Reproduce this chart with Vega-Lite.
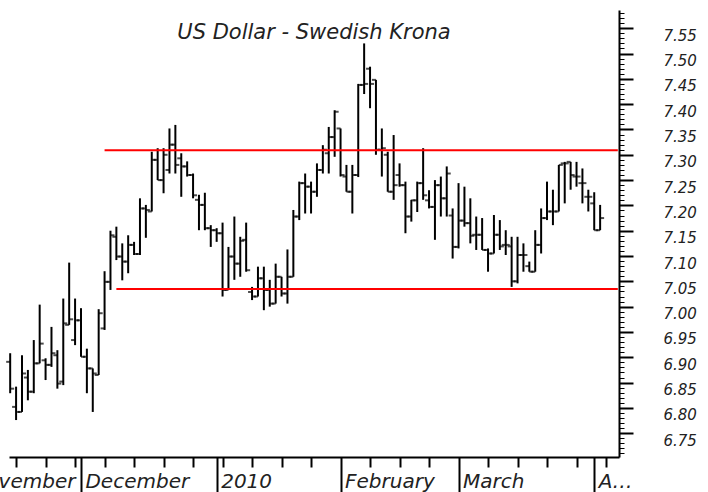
{
  "$schema": "https://vega.github.io/schema/vega-lite/v6.json",
  "width": 610,
  "height": 447,
  "autosize": {"type": "none"},
  "padding": {"left": 9, "top": 10, "right": 89, "bottom": 35},
  "background": "white",
  "title": {"text": "US Dollar - Swedish Krona", "font": "DejaVu Sans", "fontSize": 21, "fontStyle": "italic", "fontWeight": "normal", "color": "#222222", "anchor": "middle", "baseline": "alphabetic", "offset": -50},
  "config": {"view": {"stroke": null}, "axis": {"grid": false, "title": null, "labelFont": "DejaVu Sans", "labelFontStyle": "italic", "labelColor": "#222222", "labelOverlap": false, "labelBound": false, "labelAngle": 0, "tickColor": "#000000", "domainColor": "#000000"}},
  "datasets": {
    "bars": [
      {"d":"2009-11-13","o":6.891,"h":6.908,"l":6.829,"c":6.838},
      {"d":"2009-11-16","o":6.802,"h":6.842,"l":6.776,"c":6.792},
      {"d":"2009-11-17","o":6.792,"h":6.904,"l":6.792,"c":6.868},
      {"d":"2009-11-18","o":6.86,"h":6.875,"l":6.815,"c":6.832},
      {"d":"2009-11-19","o":6.832,"h":6.934,"l":6.829,"c":6.888},
      {"d":"2009-11-20","o":6.888,"h":7.004,"l":6.888,"c":6.927},
      {"d":"2009-11-23","o":6.894,"h":6.898,"l":6.855,"c":6.885},
      {"d":"2009-11-24","o":6.885,"h":6.96,"l":6.881,"c":6.908},
      {"d":"2009-11-25","o":6.904,"h":6.914,"l":6.838,"c":6.848},
      {"d":"2009-11-26","o":6.852,"h":7.016,"l":6.845,"c":6.967},
      {"d":"2009-11-27","o":6.964,"h":7.087,"l":6.964,"c":6.975},
      {"d":"2009-11-30","o":6.934,"h":7.016,"l":6.924,"c":6.973},
      {"d":"2009-12-01","o":6.973,"h":6.997,"l":6.901,"c":6.901},
      {"d":"2009-12-02","o":6.901,"h":6.917,"l":6.829,"c":6.878},
      {"d":"2009-12-03","o":6.878,"h":6.878,"l":6.792,"c":6.868},
      {"d":"2009-12-04","o":6.865,"h":6.995,"l":6.865,"c":6.987},
      {"d":"2009-12-07","o":6.957,"h":7.07,"l":6.954,"c":7.049},
      {"d":"2009-12-08","o":7.049,"h":7.15,"l":7.033,"c":7.141},
      {"d":"2009-12-09","o":7.138,"h":7.158,"l":7.092,"c":7.099},
      {"d":"2009-12-10","o":7.099,"h":7.125,"l":7.052,"c":7.089},
      {"d":"2009-12-11","o":7.089,"h":7.141,"l":7.066,"c":7.122},
      {"d":"2009-12-14","o":7.122,"h":7.128,"l":7.102,"c":7.104},
      {"d":"2009-12-15","o":7.104,"h":7.214,"l":7.102,"c":7.194},
      {"d":"2009-12-16","o":7.194,"h":7.201,"l":7.136,"c":7.191},
      {"d":"2009-12-17","o":7.188,"h":7.306,"l":7.188,"c":7.29},
      {"d":"2009-12-18","o":7.29,"h":7.313,"l":7.25,"c":7.25},
      {"d":"2009-12-21","o":7.25,"h":7.313,"l":7.224,"c":7.3},
      {"d":"2009-12-22","o":7.27,"h":7.352,"l":7.263,"c":7.32},
      {"d":"2009-12-23","o":7.32,"h":7.359,"l":7.263,"c":7.28},
      {"d":"2009-12-24","o":7.293,"h":7.303,"l":7.217,"c":7.277},
      {"d":"2009-12-25","o":7.277,"h":7.287,"l":7.257,"c":7.26},
      {"d":"2009-12-28","o":7.26,"h":7.263,"l":7.214,"c":7.22},
      {"d":"2009-12-29","o":7.211,"h":7.221,"l":7.151,"c":7.201},
      {"d":"2009-12-30","o":7.201,"h":7.225,"l":7.151,"c":7.155},
      {"d":"2009-12-31","o":7.155,"h":7.161,"l":7.118,"c":7.151},
      {"d":"2010-01-01","o":7.151,"h":7.155,"l":7.128,"c":7.145},
      {"d":"2010-01-04","o":7.145,"h":7.166,"l":7.02,"c":7.033},
      {"d":"2010-01-05","o":7.033,"h":7.118,"l":7.033,"c":7.099},
      {"d":"2010-01-06","o":7.099,"h":7.178,"l":7.053,"c":7.085},
      {"d":"2010-01-07","o":7.085,"h":7.138,"l":7.059,"c":7.13},
      {"d":"2010-01-08","o":7.132,"h":7.166,"l":7.069,"c":7.072},
      {"d":"2010-01-11","o":7.029,"h":7.039,"l":7.013,"c":7.02},
      {"d":"2010-01-12","o":7.02,"h":7.079,"l":7.02,"c":7.056},
      {"d":"2010-01-13","o":7.056,"h":7.079,"l":6.993,"c":7.033},
      {"d":"2010-01-14","o":7.033,"h":7.053,"l":7.0,"c":7.006},
      {"d":"2010-01-15","o":7.006,"h":7.085,"l":7.006,"c":7.059},
      {"d":"2010-01-18","o":7.059,"h":7.059,"l":7.02,"c":7.026},
      {"d":"2010-01-19","o":7.026,"h":7.113,"l":7.006,"c":7.059},
      {"d":"2010-01-20","o":7.059,"h":7.191,"l":7.059,"c":7.178},
      {"d":"2010-01-21","o":7.178,"h":7.247,"l":7.171,"c":7.244},
      {"d":"2010-01-22","o":7.244,"h":7.263,"l":7.184,"c":7.237},
      {"d":"2010-01-25","o":7.237,"h":7.247,"l":7.184,"c":7.227},
      {"d":"2010-01-26","o":7.227,"h":7.283,"l":7.217,"c":7.27},
      {"d":"2010-01-27","o":7.27,"h":7.319,"l":7.263,"c":7.31},
      {"d":"2010-01-28","o":7.303,"h":7.355,"l":7.263,"c":7.335},
      {"d":"2010-01-29","o":7.335,"h":7.388,"l":7.296,"c":7.385},
      {"d":"2010-02-01","o":7.352,"h":7.352,"l":7.257,"c":7.26},
      {"d":"2010-02-02","o":7.257,"h":7.28,"l":7.227,"c":7.227},
      {"d":"2010-02-03","o":7.227,"h":7.28,"l":7.184,"c":7.26},
      {"d":"2010-02-04","o":7.26,"h":7.44,"l":7.256,"c":7.438},
      {"d":"2010-02-05","o":7.438,"h":7.52,"l":7.42,"c":7.44},
      {"d":"2010-02-08","o":7.47,"h":7.474,"l":7.392,"c":7.44},
      {"d":"2010-02-09","o":7.448,"h":7.448,"l":7.3,"c":7.31},
      {"d":"2010-02-10","o":7.31,"h":7.352,"l":7.257,"c":7.313},
      {"d":"2010-02-11","o":7.3,"h":7.306,"l":7.227,"c":7.227},
      {"d":"2010-02-12","o":7.227,"h":7.339,"l":7.211,"c":7.24},
      {"d":"2010-02-15","o":7.26,"h":7.283,"l":7.237,"c":7.24},
      {"d":"2010-02-16","o":7.24,"h":7.247,"l":7.145,"c":7.178},
      {"d":"2010-02-17","o":7.178,"h":7.211,"l":7.168,"c":7.21},
      {"d":"2010-02-18","o":7.21,"h":7.247,"l":7.187,"c":7.244},
      {"d":"2010-02-19","o":7.244,"h":7.313,"l":7.211,"c":7.22},
      {"d":"2010-02-22","o":7.21,"h":7.23,"l":7.194,"c":7.197},
      {"d":"2010-02-23","o":7.197,"h":7.25,"l":7.132,"c":7.24},
      {"d":"2010-02-24","o":7.24,"h":7.257,"l":7.178,"c":7.214},
      {"d":"2010-02-25","o":7.214,"h":7.277,"l":7.178,"c":7.263},
      {"d":"2010-02-26","o":7.18,"h":7.194,"l":7.095,"c":7.118},
      {"d":"2010-03-01","o":7.118,"h":7.244,"l":7.115,"c":7.17},
      {"d":"2010-03-02","o":7.17,"h":7.237,"l":7.158,"c":7.165},
      {"d":"2010-03-03","o":7.165,"h":7.214,"l":7.125,"c":7.14},
      {"d":"2010-03-04","o":7.142,"h":7.178,"l":7.112,"c":7.142},
      {"d":"2010-03-05","o":7.142,"h":7.175,"l":7.112,"c":7.112},
      {"d":"2010-03-08","o":7.112,"h":7.115,"l":7.069,"c":7.105},
      {"d":"2010-03-09","o":7.105,"h":7.181,"l":7.105,"c":7.142},
      {"d":"2010-03-10","o":7.142,"h":7.171,"l":7.112,"c":7.119},
      {"d":"2010-03-11","o":7.122,"h":7.151,"l":7.102,"c":7.122},
      {"d":"2010-03-12","o":7.119,"h":7.138,"l":7.039,"c":7.05},
      {"d":"2010-03-15","o":7.05,"h":7.138,"l":7.046,"c":7.102},
      {"d":"2010-03-16","o":7.102,"h":7.125,"l":7.069,"c":7.102},
      {"d":"2010-03-17","o":7.08,"h":7.089,"l":7.069,"c":7.069},
      {"d":"2010-03-18","o":7.069,"h":7.151,"l":7.069,"c":7.122},
      {"d":"2010-03-19","o":7.122,"h":7.194,"l":7.105,"c":7.175},
      {"d":"2010-03-22","o":7.175,"h":7.247,"l":7.171,"c":7.188},
      {"d":"2010-03-23","o":7.188,"h":7.231,"l":7.161,"c":7.188},
      {"d":"2010-03-24","o":7.188,"h":7.28,"l":7.188,"c":7.28},
      {"d":"2010-03-25","o":7.283,"h":7.286,"l":7.204,"c":7.283},
      {"d":"2010-03-26","o":7.286,"h":7.286,"l":7.231,"c":7.26},
      {"d":"2010-03-29","o":7.257,"h":7.286,"l":7.237,"c":7.257},
      {"d":"2010-03-30","o":7.244,"h":7.273,"l":7.204,"c":7.244},
      {"d":"2010-03-31","o":7.217,"h":7.231,"l":7.188,"c":7.217},
      {"d":"2010-04-01","o":7.204,"h":7.226,"l":7.151,"c":7.151},
      {"d":"2010-04-02","o":7.151,"h":7.201,"l":7.151,"c":7.175}
    ],
    "levels": [
      {"d":"2009-12-07","e":"2010-04-07","v":7.309},
      {"d":"2009-12-09","e":"2010-04-07","v":7.035}
    ]
  },
  "resolve": {"scale": {"x": "shared", "y": "shared"}, "axis": {"x": "independent", "y": "independent"}},
  "layer": [
    {
      "data": {"name": "bars"},
      "mark": {"type": "rule", "color": "#000000", "strokeWidth": 2},
      "encoding": {
        "x": {"field": "d", "type": "ordinal", "sort": null,
          "scale": {"type": "point", "padding": 0.2, "domain": ["2009-11-13","2009-11-16","2009-11-17","2009-11-18","2009-11-19","2009-11-20","2009-11-23","2009-11-24","2009-11-25","2009-11-26","2009-11-27","2009-11-30","2009-12-01","2009-12-02","2009-12-03","2009-12-04","2009-12-07","2009-12-08","2009-12-09","2009-12-10","2009-12-11","2009-12-14","2009-12-15","2009-12-16","2009-12-17","2009-12-18","2009-12-21","2009-12-22","2009-12-23","2009-12-24","2009-12-25","2009-12-28","2009-12-29","2009-12-30","2009-12-31","2010-01-01","2010-01-04","2010-01-05","2010-01-06","2010-01-07","2010-01-08","2010-01-11","2010-01-12","2010-01-13","2010-01-14","2010-01-15","2010-01-18","2010-01-19","2010-01-20","2010-01-21","2010-01-22","2010-01-25","2010-01-26","2010-01-27","2010-01-28","2010-01-29","2010-02-01","2010-02-02","2010-02-03","2010-02-04","2010-02-05","2010-02-08","2010-02-09","2010-02-10","2010-02-11","2010-02-12","2010-02-15","2010-02-16","2010-02-17","2010-02-18","2010-02-19","2010-02-22","2010-02-23","2010-02-24","2010-02-25","2010-02-26","2010-03-01","2010-03-02","2010-03-03","2010-03-04","2010-03-05","2010-03-08","2010-03-09","2010-03-10","2010-03-11","2010-03-12","2010-03-15","2010-03-16","2010-03-17","2010-03-18","2010-03-19","2010-03-22","2010-03-23","2010-03-24","2010-03-25","2010-03-26","2010-03-29","2010-03-30","2010-03-31","2010-04-01","2010-04-02","2010-04-05","2010-04-06","2010-04-07"]},
          "axis": {"orient": "bottom", "values": ["2009-11-16","2009-11-23","2009-11-30","2009-12-07","2009-12-14","2009-12-21","2009-12-28","2010-01-04","2010-01-11","2010-01-18","2010-01-25","2010-02-08","2010-02-15","2010-02-22","2010-03-08","2010-03-15","2010-03-22","2010-03-29","2010-04-05"], "labels": false, "tickSize": 10, "tickWidth": 2, "domain": true, "domainWidth": 2}},
        "y": {"field": "l", "type": "quantitative",
          "scale": {"domain": [6.703, 7.586], "nice": false, "zero": false},
          "axis": {"orient": "right", "values": [6.71,6.72,6.73,6.74,6.75,6.76,6.77,6.78,6.79,6.8,6.81,6.82,6.83,6.84,6.85,6.86,6.87,6.88,6.89,6.9,6.91,6.92,6.93,6.94,6.95,6.96,6.97,6.98,6.99,7.0,7.01,7.02,7.03,7.04,7.05,7.06,7.07,7.08,7.09,7.1,7.11,7.12,7.13,7.14,7.15,7.16,7.17,7.18,7.19,7.2,7.21,7.22,7.23,7.24,7.25,7.26,7.27,7.28,7.29,7.3,7.31,7.32,7.33,7.34,7.35,7.36,7.37,7.38,7.39,7.4,7.41,7.42,7.43,7.44,7.45,7.46,7.47,7.48,7.49,7.5,7.51,7.52,7.53,7.54,7.55,7.56,7.57,7.58], "labels": false, "tickSize": 5, "tickWidth": 1, "domain": true, "domainWidth": 2}},
        "y2": {"field": "h"}
      }
    },
    {
      "data": {"name": "bars"},
      "mark": {"type": "tick", "color": "#000000", "thickness": 2, "size": 4, "xOffset": -2},
      "encoding": {
        "x": {"field": "d", "type": "ordinal", "sort": null, "scale": {"type": "point", "padding": 0.2},
          "axis": {"orient": "bottom", "values": ["2009-12-01","2010-01-01","2010-02-01","2010-03-01","2010-04-01"], "labelExpr": "datum.value == '2009-12-01' ? 'December' : datum.value == '2010-01-01' ? '2010' : datum.value == '2010-02-01' ? 'February' : datum.value == '2010-03-01' ? 'March' : ''", "tickSize": 35, "tickWidth": 2, "domain": false, "labelAngle": 0, "labelAlign": "left", "labelBaseline": "alphabetic", "labelOffset": 4, "labelPadding": -5, "labelFontSize": 20, "labelFontStyle": "italic"}},
        "y": {"field": "o", "type": "quantitative",
          "axis": {"orient": "right", "values": [6.75,6.8,6.85,6.9,6.95,7.0,7.05,7.1,7.15,7.2,7.25,7.3,7.35,7.4,7.45,7.5,7.55], "format": ".2f", "tickSize": 14, "tickWidth": 2, "domain": false, "labelAlign": "left", "labelBaseline": "top", "labelPadding": 30, "labelFontSize": 15, "labelFontStyle": "italic"}}
      }
    },
    {
      "data": {"name": "bars"},
      "mark": {"type": "tick", "color": "#000000", "thickness": 2, "size": 4, "xOffset": 2},
      "encoding": {
        "x": {"field": "d", "type": "ordinal", "sort": null, "scale": {"type": "point", "padding": 0.2},
          "axis": {"orient": "bottom", "values": ["2009-12-01"], "labelExpr": "'November'", "tickSize": 35, "tickOpacity": 0, "domain": false, "labelAngle": 0, "labelAlign": "right", "labelBaseline": "alphabetic", "labelOffset": -6, "labelPadding": -5, "labelFontSize": 20, "labelFontStyle": "italic"}},
        "y": {"field": "c", "type": "quantitative", "axis": null}
      }
    },
    {
      "data": {"name": "levels"},
      "mark": {"type": "rule", "color": "#ff0000", "strokeWidth": 2},
      "encoding": {
        "x": {"field": "d", "type": "ordinal", "sort": null, "scale": {"type": "point", "padding": 0.2},
          "axis": {"orient": "bottom", "values": ["2010-04-01"], "labelExpr": "'April'", "labelLimit": 38, "tickSize": 35, "tickOpacity": 0, "domain": false, "labelAngle": 0, "labelAlign": "left", "labelBaseline": "alphabetic", "labelOffset": 4, "labelPadding": -5, "labelFontSize": 20, "labelFontStyle": "italic"}},
        "x2": {"field": "e"},
        "y": {"field": "v", "type": "quantitative", "axis": null}
      }
    }
  ]
}
